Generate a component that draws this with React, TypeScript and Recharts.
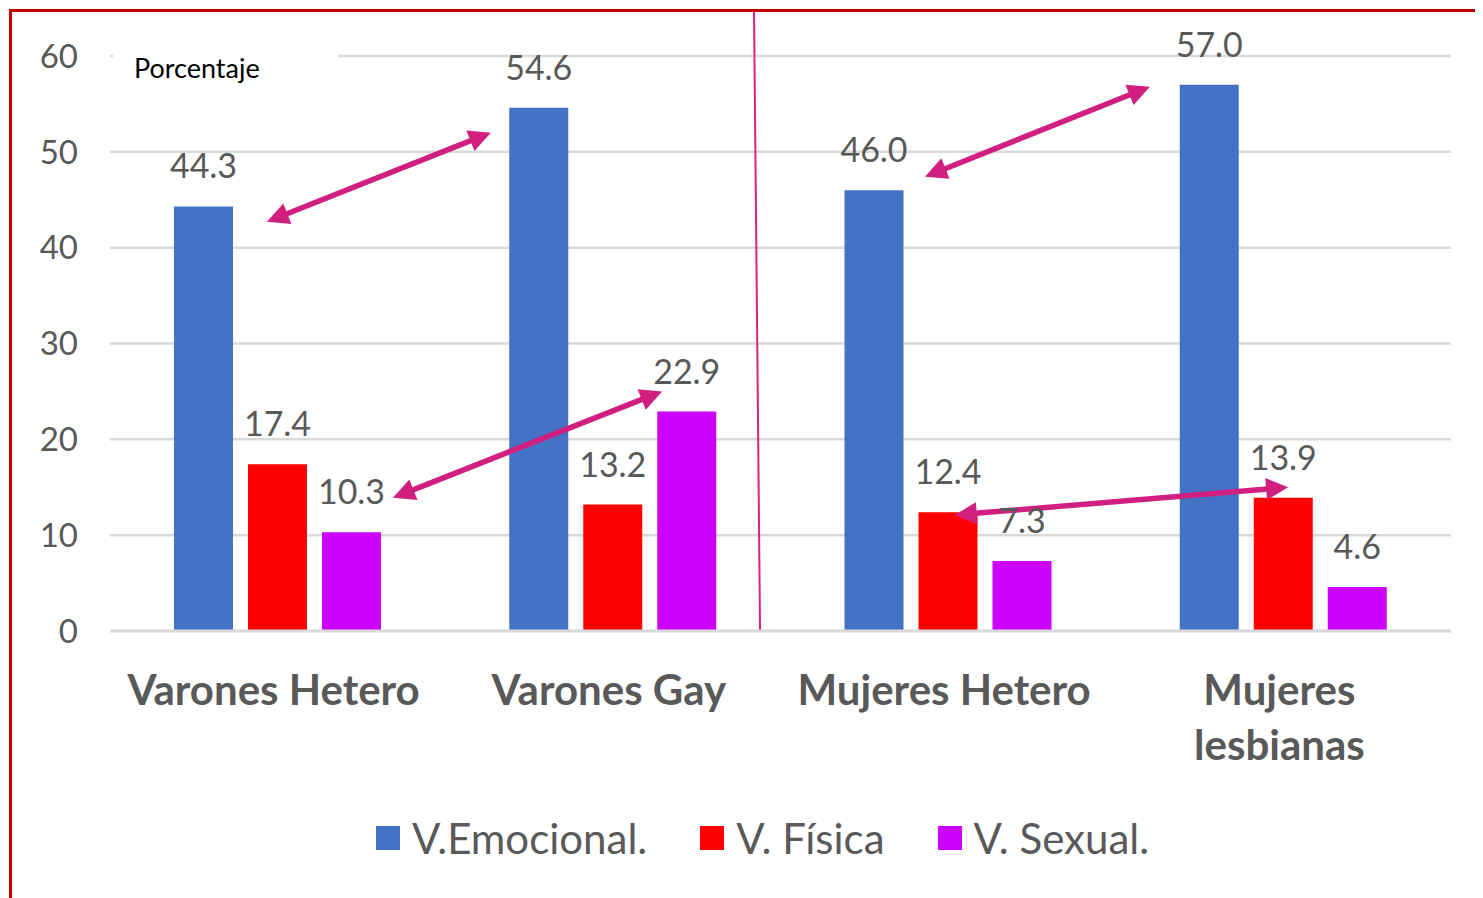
import { BarChart, Bar, XAxis, YAxis, CartesianGrid, Legend, LabelList, ReferenceLine } from 'recharts'

const categories = ['Varones Hetero', 'Varones Gay', 'Mujeres Hetero', 'Mujeres lesbianas']
const slots = [0.5, 1.5, 2.5, 3.5]
const emocional = [44.3, 54.6, 46.0, 57.0]
const fisica = [17.4, 13.2, 12.4, 13.9]
const sexual = [10.3, 22.9, 7.3, 4.6]
const yTicks = [0, 10, 20, 30, 40, 50, 60]

const series = [
  { key: 'emocional', name: 'V.Emocional.', color: '#4472c4' },
  { key: 'fisica', name: 'V. Física', color: '#ff0000' },
  { key: 'sexual', name: 'V. Sexual.', color: '#cc00ff' },
]

// annotation arrows, x in category slots (0..4), y in percent
const arrows = [
  { from: { x: 0.468, y: 42.7 }, to: { x: 1.136, y: 52.0 } },
  { from: { x: 0.844, y: 13.9 }, to: { x: 1.647, y: 25.0 } },
  { from: { x: 2.431, y: 47.4 }, to: { x: 3.102, y: 56.8 } },
  { from: { x: 2.52, y: 12.1 }, to: { x: 3.514, y: 15.0 } },
]
const divider = { from: { x: 1.939, y: 0 }, to: { x: 1.921, y: 64.8 } }

const data = categories.map((name, i) => ({
  name,
  slot: slots[i],
  emocional: emocional[i],
  fisica: fisica[i],
  sexual: sexual[i],
}))

const FONT = 'Lato, "Open Sans", sans-serif'
const GRAY = '#595959'
const PINK = '#d11f7f'

function arrowShape(p: any) {
  const { x1, y1, x2, y2 } = p
  const dx = x2 - x1
  const dy = y2 - y1
  const len = Math.hypot(dx, dy) || 1
  const ux = dx / len
  const uy = dy / len
  const hl = 22
  const hw = 11
  const head = (tx: number, ty: number, sx: number, sy: number) => {
    const bx = tx - sx * hl
    const by = ty - sy * hl
    return `${tx},${ty} ${bx - sy * hw},${by + sx * hw} ${bx + sy * hw},${by - sx * hw}`
  }
  return (
    <g>
      <line
        x1={x1 + ux * hl * 0.8}
        y1={y1 + uy * hl * 0.8}
        x2={x2 - ux * hl * 0.8}
        y2={y2 - uy * hl * 0.8}
        stroke={PINK}
        strokeWidth={5.5}
      />
      <polygon points={head(x2, y2, ux, uy)} fill={PINK} />
      <polygon points={head(x1, y1, -ux, -uy)} fill={PINK} />
    </g>
  )
}

function CategoryTick({ x, y, payload }: any) {
  const label: string = payload.value
  const lines = label.length > 15 ? label.split(' ') : [label]
  return (
    <text x={x - 4} y={y} textAnchor="middle" fill={GRAY} fontSize={42} fontWeight={700} fontFamily={FONT}>
      {lines.map((l, i) => (
        <tspan key={i} x={x - 4} dy={i === 0 ? 74 : 55}>
          {l}
        </tspan>
      ))}
    </text>
  )
}

function LegendContent() {
  return (
    <div style={{ display: 'flex', justifyContent: 'center', alignItems: 'center', gap: 53, height: 50 }}>
      {series.map((s) => (
        <div key={s.key} style={{ display: 'flex', alignItems: 'center' }}>
          <span style={{ width: 24, height: 24, background: s.color, marginRight: 12, display: 'inline-block' }} />
          <span style={{ fontSize: 42, color: GRAY, fontFamily: FONT, lineHeight: '50px' }}>{s.name}</span>
        </div>
      ))}
    </div>
  )
}

export default function App() {
  return (
    <div style={{ position: 'relative', width: 1475, height: 890, fontFamily: FONT }}>
      <BarChart
        width={1475}
        height={890}
        data={data}
        margin={{ top: 48, right: 32, left: 0, bottom: 35 }}
        barSize={59}
        barGap={15}
      >
        <CartesianGrid vertical={false} stroke="#d9d9d9" strokeWidth={2.5} />
        <XAxis
          xAxisId="cat"
          dataKey="name"
          height={182}
          tick={<CategoryTick />}
          tickLine={false}
          tickSize={0}
          tickMargin={0}
          axisLine={{ stroke: '#d9d9d9', strokeWidth: 3 }}
          interval={0}
        />
        <XAxis xAxisId="num" dataKey="slot" type="number" domain={[0, 4]} allowDataOverflow hide />
        <YAxis
          domain={[0, 60]}
          ticks={yTicks}
          width={102}
          axisLine={false}
          tickLine={false}
          tickSize={0}
          tickMargin={32}
          tick={{ fontSize: 33, fill: GRAY, fontFamily: FONT }}
        />
        <Legend
          verticalAlign="bottom"
          content={<LegendContent />}
          wrapperStyle={{ left: 33, width: 1443 }}
        />
        {series.map((s) => (
          <Bar key={s.key} xAxisId="cat" dataKey={s.key} name={s.name} fill={s.color} isAnimationActive={false}>
            <LabelList
              dataKey={s.key}
              position="top"
              offset={28}
              formatter={(v: any) => Number(v).toFixed(1)}
              style={{ fontSize: 34, fill: GRAY, fontFamily: FONT }}
            />
          </Bar>
        ))}
        <ReferenceLine
          xAxisId="num"
          segment={[divider.from, divider.to]}
          stroke="#e0207f"
          strokeWidth={2}
          ifOverflow="visible"
        />
        {arrows.map((a, i) => (
          <ReferenceLine
            key={i}
            xAxisId="num"
            segment={[a.from, a.to]}
            ifOverflow="visible"
            shape={arrowShape}
          />
        ))}
      </BarChart>
      <div
        style={{
          position: 'absolute',
          left: 105,
          top: 43,
          width: 225,
          height: 34,
          background: '#fff',
          paddingLeft: 21,
          boxSizing: 'border-box',
          fontSize: 27,
          lineHeight: '34px',
          color: '#000',
          fontFamily: FONT,
        }}
      >
        Porcentaje
      </div>
      <div
        style={{
          position: 'absolute',
          left: 1,
          top: 1,
          right: 0,
          bottom: 0,
          borderLeft: '3px solid #c00000',
          borderTop: '3px solid #c00000',
          pointerEvents: 'none',
        }}
      />
    </div>
  )
}
